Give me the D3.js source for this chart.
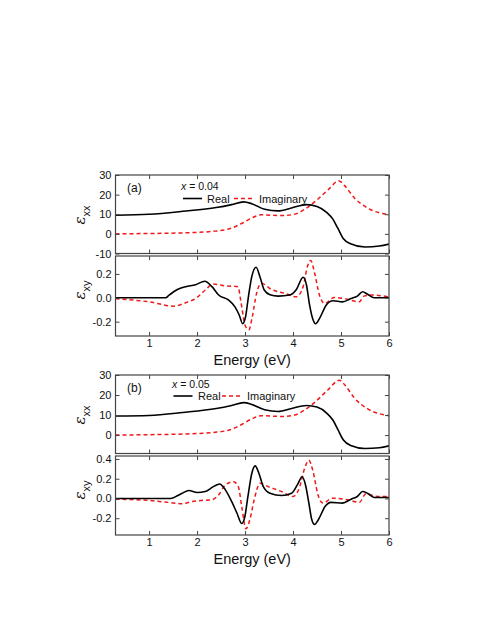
<!DOCTYPE html>
<html>
<head>
<meta charset="utf-8">
<script src="https://cdn.jsdelivr.net/npm/d3@7"></script>
<style>
  body { margin: 0; background: #fff; }
  text { font-family: "Liberation Sans", Arial, sans-serif; }
</style>
</head>
<body>
<div id="chart"></div>
<script>
// energy ticks (eV)
const energyTicks = [1, 2, 3, 4, 5, 6];

// panel (a), x = 0.04 : [energy, value]
const aXxReal = [[0.3,9.5],[1.0,10],[1.7,11.5],[2.4,13.4],[2.72,14.9],[2.97,16.3],[3.14,15.4],[3.41,12.5],[3.69,11.7],[3.97,13.2],[4.28,14.9],[4.5,14],[4.7,11],[4.83,7.5],[4.93,3],[5.05,-2.5],[5.2,-5],[5.5,-6.7],[5.8,-6.2],[6.0,-5.2]];
const aXxImag = [[0.3,0],[1.0,0.2],[1.7,0.5],[2.38,1.4],[2.69,2.7],[2.93,5.3],[3.14,8.1],[3.34,9.7],[3.76,9.3],[4.03,10],[4.24,12.5],[4.45,16.3],[4.72,22.2],[4.96,27],[5.07,24.7],[5.28,18.3],[5.55,13.2],[6.0,9.8]];
const aXyReal = [[0.3,0],[1.35,0],[1.41,0.02],[1.59,0.07],[1.76,0.093],[1.97,0.11],[2.16,0.138],[2.31,0.093],[2.45,0.023],[2.66,-0.02],[2.79,-0.076],[2.88,-0.146],[2.95,-0.217],[3.01,-0.16],[3.07,0.008],[3.14,0.177],[3.23,0.256],[3.31,0.177],[3.4,0.065],[3.52,0.025],[3.69,0.014],[3.93,0.023],[4.07,0.07],[4.21,0.172],[4.28,0.107],[4.34,-0.048],[4.41,-0.175],[4.47,-0.217],[4.55,-0.175],[4.69,-0.062],[4.83,-0.025],[5.03,-0.034],[5.21,-0.006],[5.34,0.014],[5.45,0.05],[5.55,0.03],[5.69,0],[5.83,0],[6.0,0.003]];
const aXyImag = [[0.3,-0.008],[1.0,-0.034],[1.52,-0.07],[1.76,-0.042],[2.0,0.003],[2.17,0.065],[2.34,0.115],[2.59,0.1],[2.85,0.093],[2.92,-0.048],[3.0,-0.23],[3.08,-0.268],[3.15,-0.16],[3.24,0.037],[3.34,0.121],[3.55,0.07],[3.83,0.037],[4.07,0.008],[4.21,0.093],[4.3,0.262],[4.37,0.313],[4.45,0.206],[4.55,0.023],[4.66,-0.048],[4.86,0.003],[5.07,-0.006],[5.38,-0.034],[5.48,0.014],[5.62,0.023],[6.0,0.008]];

// panel (b), x = 0.05
const bXxReal = [[0.3,9.5],[1.0,9.8],[1.7,11.3],[2.4,13.3],[2.72,14.8],[2.97,16.2],[3.14,15.3],[3.41,12.6],[3.69,11.8],[3.97,13.3],[4.28,14.8],[4.5,14],[4.7,11],[4.83,7.5],[4.93,3],[5.05,-2.5],[5.2,-5.2],[5.5,-6.7],[5.8,-6.3],[6.0,-5.4]];
const bXxImag = [[0.3,0],[1.0,0.2],[1.7,0.5],[2.38,1.4],[2.69,2.7],[2.93,5.3],[3.14,8.1],[3.34,9.7],[3.76,9.3],[4.03,10],[4.24,12.5],[4.45,16.3],[4.72,22.4],[4.97,27.4],[5.08,25],[5.28,18.5],[5.55,13.2],[6.0,9.7]];
const bXyReal = [[0.3,0],[1.45,0],[1.59,0.027],[1.69,0.053],[1.83,0.08],[2.0,0.06],[2.17,0.07],[2.34,0.12],[2.47,0.147],[2.59,0.087],[2.72,-0.03],[2.83,-0.147],[2.93,-0.253],[2.99,-0.197],[3.06,0.02],[3.14,0.253],[3.21,0.33],[3.29,0.253],[3.38,0.12],[3.52,0.053],[3.76,0.03],[3.97,0.053],[4.09,0.137],[4.19,0.22],[4.26,0.137],[4.33,-0.047],[4.39,-0.213],[4.45,-0.263],[4.53,-0.213],[4.67,-0.08],[4.79,-0.04],[5.03,-0.047],[5.21,-0.007],[5.34,0.02],[5.45,0.07],[5.55,0.053],[5.69,0.01],[6.0,0.01]];
const bXyImag = [[0.3,-0.007],[1.0,-0.02],[1.41,-0.04],[1.69,-0.053],[1.9,-0.03],[2.1,-0.02],[2.31,-0.013],[2.45,0.037],[2.59,0.137],[2.76,0.17],[2.86,0.12],[2.93,-0.08],[3.02,-0.307],[3.1,-0.213],[3.19,-0.013],[3.31,0.153],[3.48,0.12],[3.76,0.07],[4.0,0.02],[4.14,0.12],[4.24,0.303],[4.33,0.387],[4.41,0.287],[4.52,0.037],[4.62,-0.047],[4.83,0.003],[5.14,-0.013],[5.38,-0.04],[5.52,0.047],[5.76,0.02],[6.0,0.02]];

const W = 480, H = 622;
const left = 115.5, right = 389;

const svg = d3.select("#chart").append("svg")
    .attr("width", W)
    .attr("height", H);

const x = d3.scaleLinear().domain([0.3, 6]).range([left, right]);

const panels = [
  { top: 175, bottom: 253.5, domain: [-10, 30], ticks: [-10, 0, 10, 20, 30], fmt: d3.format("d"),
    real: aXxReal, imag: aXxImag, sub: "xx", labelY: 215, xLabels: false },
  { top: 256, bottom: 336, domain: [-0.32, 0.35], ticks: [-0.2, 0, 0.2], fmt: d3.format(".1f"),
    real: aXyReal, imag: aXyImag, sub: "xy", labelY: 290, xLabels: true },
  { top: 375, bottom: 453.5, domain: [-9.2, 30], ticks: [0, 10, 20, 30], fmt: d3.format("d"),
    real: bXxReal, imag: bXxImag, sub: "xx", labelY: 415, xLabels: false },
  { top: 456, bottom: 535, domain: [-0.37, 0.43], ticks: [-0.2, 0, 0.2, 0.4], fmt: d3.format(".1f"),
    real: bXyReal, imag: bXyImag, sub: "xy", labelY: 490, xLabels: true }
];

const hyphen = f => d => f(d).replace("\u2212", "-");

panels.forEach((p, i) => {
  const y = d3.scaleLinear().domain(p.domain).range([p.bottom, p.top]);
  const g = svg.append("g");

  g.append("clipPath").attr("id", "clip" + i)
    .append("rect")
    .attr("x", left).attr("y", p.top)
    .attr("width", right - left).attr("height", p.bottom - p.top);

  const line = d3.line()
      .x(d => x(d[0]))
      .y(d => y(d[1]))
      .curve(d3.curveMonotoneX);

  g.append("path")
    .datum(p.imag)
    .attr("clip-path", `url(#clip${i})`)
    .attr("fill", "none")
    .attr("stroke", "#f01818")
    .attr("stroke-width", 1.5)
    .attr("stroke-dasharray", "4,3")
    .attr("d", line);

  g.append("path")
    .datum(p.real)
    .attr("clip-path", `url(#clip${i})`)
    .attr("fill", "none")
    .attr("stroke", "#000")
    .attr("stroke-width", 1.6)
    .attr("d", line);

  // axes, ticks pointing inward
  g.append("g").attr("transform", `translate(${left},0)`)
    .call(d3.axisLeft(y).tickValues(p.ticks).tickSize(-4).tickPadding(4).tickFormat(hyphen(p.fmt)));
  g.append("g").attr("transform", `translate(${right},0)`)
    .call(d3.axisRight(y).tickValues(p.ticks).tickSize(-4).tickFormat(""));
  g.append("g").attr("transform", `translate(0,${p.top})`)
    .call(d3.axisTop(x).tickValues(energyTicks).tickSize(-4).tickFormat(""));
  g.append("g").attr("transform", `translate(0,${p.bottom})`)
    .call(d3.axisBottom(x).tickValues(energyTicks).tickSize(-4).tickPadding(3)
      .tickFormat(p.xLabels ? d3.format("d") : ""));

  g.selectAll(".domain").remove();
  g.selectAll(".tick line").attr("stroke", "#444");
  g.selectAll(".tick text").attr("font-size", 11).attr("fill", "#111")
    .style("font-family", "'Liberation Sans', Arial, sans-serif");

  g.append("rect")
    .attr("x", left).attr("y", p.top)
    .attr("width", right - left).attr("height", p.bottom - p.top)
    .attr("fill", "none")
    .attr("stroke", "#444")
    .attr("stroke-width", 1.2);

  // y label: epsilon with subscript
  const lab = g.append("text")
    .attr("transform", `translate(85,${p.labelY}) rotate(-90)`)
    .attr("text-anchor", "middle")
    .attr("fill", "#111");
  lab.append("tspan").attr("font-size", 15).attr("font-style", "italic")
    .style("font-family", "'DejaVu Serif', serif").text("\u03b5");
  lab.append("tspan").attr("font-size", 11).attr("dy", 5).text(p.sub);

  if (p.xLabels) {
    g.append("text")
      .attr("x", (left + right) / 2)
      .attr("y", p.bottom + 29)
      .attr("text-anchor", "middle")
      .attr("font-size", 14.5)
      .attr("fill", "#111")
      .text("Energy (eV)");
  }
});

// legends
const legends = [
  { tag: "(a)", conc: "0.04", tagX: 127, tagY: 192, concX: 181, concY: 189.5, lineX: 183, lineY: 198.5, realX: 207, dashX: 234, imagX: 259 },
  { tag: "(b)", conc: "0.05", tagX: 127, tagY: 391.5, concX: 172, concY: 388, lineX: 173.5, lineY: 396, realX: 198, dashX: 222, imagX: 247 }
];

legends.forEach(l => {
  const g = svg.append("g").attr("fill", "#111");
  g.append("text").attr("x", l.tagX).attr("y", l.tagY).attr("font-size", 12).text(l.tag);
  const c = g.append("text").attr("x", l.concX).attr("y", l.concY).attr("font-size", 10.5);
  c.append("tspan").attr("font-style", "italic").text("x");
  c.append("tspan").text(" = " + l.conc);
  g.append("line")
    .attr("x1", l.lineX).attr("x2", l.lineX + 19)
    .attr("y1", l.lineY).attr("y2", l.lineY)
    .attr("stroke", "#000").attr("stroke-width", 1.6);
  g.append("text").attr("x", l.realX).attr("y", l.lineY + 4).attr("font-size", 11).text("Real");
  g.append("line")
    .attr("x1", l.dashX).attr("x2", l.dashX + 19)
    .attr("y1", l.lineY).attr("y2", l.lineY)
    .attr("stroke", "#f01818").attr("stroke-width", 1.5)
    .attr("stroke-dasharray", "4,3");
  g.append("text").attr("x", l.imagX).attr("y", l.lineY + 4).attr("font-size", 11).text("Imaginary");
});
</script>
</body>
</html>
